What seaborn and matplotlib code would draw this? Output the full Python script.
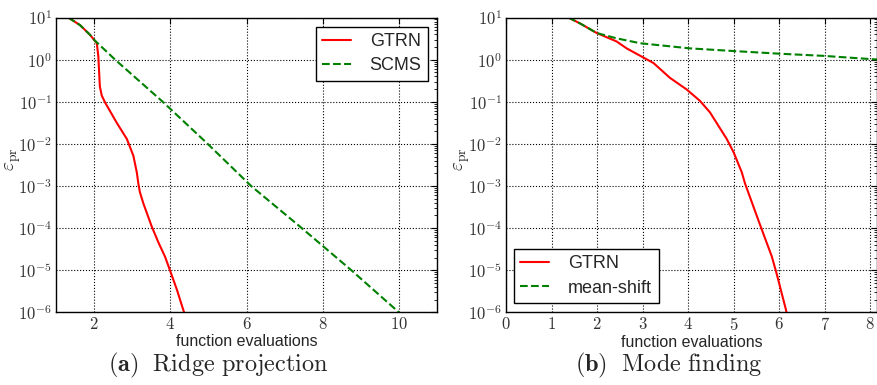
import numpy as np
import pandas as pd
import matplotlib
matplotlib.use("Agg")
import matplotlib.pyplot as plt
from matplotlib.ticker import FixedLocator, FuncFormatter, LogLocator, NullFormatter
import seaborn as sns

# (a) Ridge projection
ridge_gtrn_x = [1.32, 1.63, 1.89, 2.0, 2.07, 2.11, 2.15, 2.2, 2.29, 2.59, 2.86, 3.03,
                3.12, 3.16, 3.2, 3.29, 3.51, 3.69, 3.86, 3.99, 4.17, 4.36, 4.45]
ridge_gtrn_y = [10.0, 6.6, 3.9, 2.95, 2.45, 1.2, 0.23, 0.14, 0.095, 0.032, 0.013, 5.2e-3,
                2.1e-3, 1.15e-3, 7.2e-4, 3.9e-4, 1.1e-4, 4.5e-5, 2.1e-5, 1.0e-5, 3.5e-6,
                1.0e-6, 5.0e-7]
ridge_scms_x = [1.32, 1.63, 1.89, 2.0, 2.55, 3.8, 4.98, 6.12, 7.45, 8.75, 10.0, 10.3]
ridge_scms_y = [10.0, 6.6, 3.9, 2.95, 1.0, 0.1, 0.01, 1e-3, 1e-4, 1e-5, 1e-6, 5e-7]

# (b) Mode finding
mode_gtrn_x = [1.37, 1.63, 1.99, 2.43, 2.65, 3.24, 3.6, 3.97, 4.26, 4.48, 4.85, 5.0,
               5.18, 5.25, 5.58, 5.84, 5.95, 6.15, 6.2]
mode_gtrn_y = [10.0, 7.2, 4.3, 2.7, 1.85, 0.83, 0.37, 0.195, 0.105, 0.056, 0.013, 6.3e-3,
               2.1e-3, 1.15e-3, 1.2e-4, 2.1e-5, 7.9e-6, 1.15e-6, 6e-7]
mode_ms_x = [1.37, 1.63, 1.99, 2.43, 2.95, 4.04, 5.0, 6.02, 6.97, 8.07, 8.3]
mode_ms_y = [10.0, 7.2, 4.3, 3.2, 2.45, 1.85, 1.6, 1.38, 1.23, 1.02, 0.99]

sns.set_theme(style="white")
plt.rcParams["mathtext.fontset"] = "cm"
plt.rcParams["font.family"] = ["Liberation Sans", "DejaVu Sans"]

fig = plt.figure(figsize=(8.77, 3.85), dpi=100)
ax1 = fig.add_axes([0.0639, 0.1888, 0.4344, 0.7657])
ax2 = fig.add_axes([0.577, 0.1888, 0.423, 0.7657])

red = "#ff0000"
green = "#008000"

sns.lineplot(x=ridge_gtrn_x, y=ridge_gtrn_y, ax=ax1, color=red, lw=1.5,
             label="GTRN", sort=False, estimator=None)
sns.lineplot(x=ridge_scms_x, y=ridge_scms_y, ax=ax1, color=green, lw=1.5,
             ls="--", label="SCMS", sort=False, estimator=None)
sns.lineplot(x=mode_gtrn_x, y=mode_gtrn_y, ax=ax2, color=red, lw=1.5,
             label="GTRN", sort=False, estimator=None)
sns.lineplot(x=mode_ms_x, y=mode_ms_y, ax=ax2, color=green, lw=1.5,
             ls="--", label="mean-shift", sort=False, estimator=None)

ax1.set_xlim(1, 11)
ax1.xaxis.set_major_locator(FixedLocator([2, 4, 6, 8, 10]))
ax2.set_xlim(0, 8.15)
ax2.xaxis.set_major_locator(FixedLocator(range(0, 9)))

for ax in (ax1, ax2):
    ax.set_yscale("log")
    ax.set_ylim(1e-6, 1e1)
    ax.yaxis.set_major_locator(FixedLocator([10.0 ** k for k in range(-6, 2)]))
    ax.yaxis.set_minor_locator(LogLocator(base=10, subs=np.arange(2, 10)))
    ax.yaxis.set_minor_formatter(NullFormatter())
    ax.yaxis.set_major_formatter(FuncFormatter(lambda v, p: r"$10^{%d}$" % round(np.log10(v))))
    ax.xaxis.set_major_formatter(FuncFormatter(lambda v, p: r"$%d$" % round(v)))
    ax.grid(True, which="major", color="black", ls=":", lw=0.8)
    ax.tick_params(which="both", direction="in", top=True, right=True, colors="black",
                   labelcolor="#333333", labelsize=12)
    ax.tick_params(which="major", length=4, width=0.8, pad=3)
    ax.tick_params(which="minor", length=2, width=0.6)
    for s in ax.spines.values():
        s.set_color("black")
        s.set_linewidth(1.0)
    ax.set_xlabel("function evaluations", fontsize=11.5, labelpad=1)
    ax.set_ylabel(r"$\varepsilon_{\rm pr}$", fontsize=14)

ax1.yaxis.set_label_coords(-0.088, 0.52)
ax2.yaxis.set_label_coords(-0.091, 0.52)

leg_kw = dict(fontsize=13, frameon=True, fancybox=False, edgecolor="black",
              framealpha=1, handlelength=1.6, handletextpad=1.05, borderpad=0.35,
              labelspacing=0.4, borderaxespad=0)
l1 = ax1.legend(loc="upper right", bbox_to_anchor=(0.976, 0.968), **leg_kw)
l2 = ax2.legend(loc="lower left", bbox_to_anchor=(0.0216, 0.032), **leg_kw)
for lg in (l1, l2):
    lg.get_frame().set_linewidth(1.0)

fig.text(0.249, 0.05, r"$\mathbf{(a)}\ \ \mathrm{Ridge\ projection}$", ha="center",
         va="center", fontsize=17.5)
fig.text(0.762, 0.05, r"$\mathbf{(b)}\ \ \mathrm{Mode\ finding}$", ha="center",
         va="center", fontsize=17.5)

fig.savefig("out.png", dpi=100)
